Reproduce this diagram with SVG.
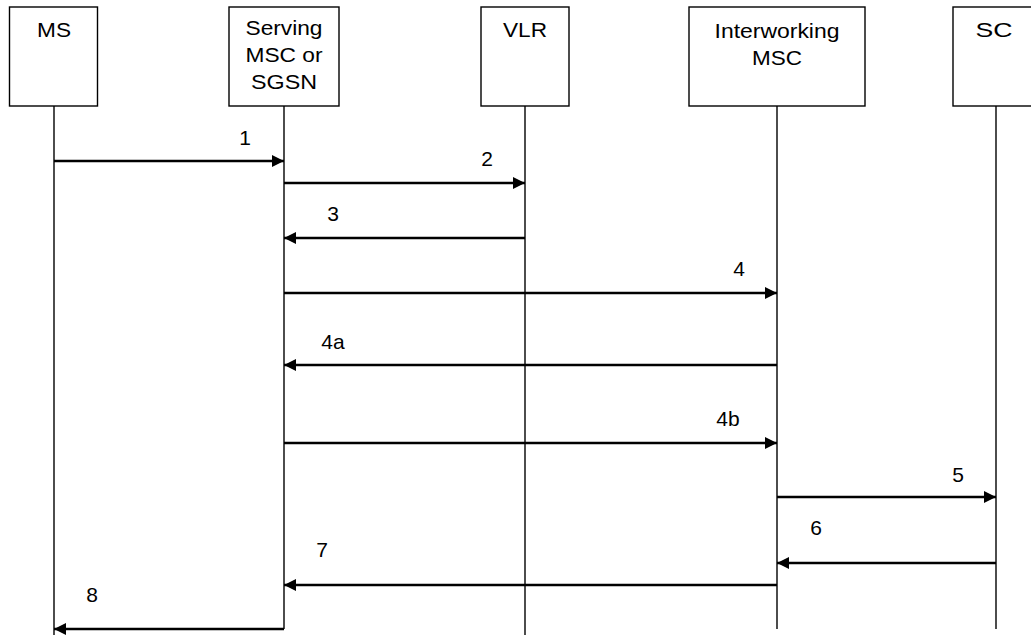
<svg xmlns="http://www.w3.org/2000/svg" width="1031" height="635" viewBox="0 0 1031 635">
<style>
.box{fill:#fff;stroke:#000;stroke-width:1.4}
.life{stroke:#000;stroke-width:1.4;fill:none}
.msg{stroke:#000;stroke-width:2.4;fill:none;marker-end:url(#ah)}
.t{font-family:"Liberation Sans",Arial,sans-serif;font-size:21px;fill:#000;text-anchor:middle}
.n{font-family:"Liberation Sans",Arial,sans-serif;font-size:21px;fill:#000;text-anchor:middle}
</style>
<defs>
<marker id="ah" markerUnits="userSpaceOnUse" markerWidth="13" markerHeight="13" refX="12" refY="6" orient="auto">
<path d="M0,0 L12,6 L0,12 Z" fill="#000"/>
</marker>
</defs>
<rect width="1031" height="635" fill="#fff"/>
<g id="lifelines">
<line class="life" x1="54" y1="106" x2="54" y2="635"/>
<line class="life" x1="284" y1="106" x2="284" y2="629"/>
<line class="life" x1="525" y1="106" x2="525" y2="635"/>
<line class="life" x1="777" y1="106" x2="777" y2="629"/>
<line class="life" x1="996" y1="106" x2="996" y2="629"/>
</g>
<g id="ms">
<rect class="box" x="9.5" y="7" width="88" height="99"/>
<text class="t" x="54" y="37" textLength="34" lengthAdjust="spacingAndGlyphs">MS</text>
</g>
<g id="serving">
<rect class="box" x="229" y="7" width="110" height="99"/>
<text class="t" x="284" y="35" textLength="77" lengthAdjust="spacingAndGlyphs">Serving</text>
<text class="t" x="284" y="62" textLength="77" lengthAdjust="spacingAndGlyphs">MSC or</text>
<text class="t" x="284" y="89" textLength="66" lengthAdjust="spacingAndGlyphs">SGSN</text>
</g>
<g id="vlr">
<rect class="box" x="481" y="7" width="88" height="99"/>
<text class="t" x="525" y="37" textLength="44" lengthAdjust="spacingAndGlyphs">VLR</text>
</g>
<g id="iwmsc">
<rect class="box" x="689" y="7" width="176" height="99"/>
<text class="t" x="777" y="38" textLength="125" lengthAdjust="spacingAndGlyphs">Interworking</text>
<text class="t" x="777" y="65" textLength="50" lengthAdjust="spacingAndGlyphs">MSC</text>
</g>
<g id="sc">
<rect class="box" x="953" y="7" width="90" height="99"/>
<text class="t" x="994" y="37" textLength="37" lengthAdjust="spacingAndGlyphs">SC</text>
</g>
<g id="connectors">
<line class="msg" x1="54" y1="161" x2="284" y2="161"/>
<line class="msg" x1="284" y1="183" x2="525" y2="183"/>
<line class="msg" x1="525" y1="238" x2="284" y2="238"/>
<line class="msg" x1="284" y1="293" x2="777" y2="293"/>
<line class="msg" x1="777" y1="365" x2="284" y2="365"/>
<line class="msg" x1="284" y1="443" x2="777" y2="443"/>
<line class="msg" x1="777" y1="497" x2="996" y2="497"/>
<line class="msg" x1="996" y1="563" x2="777" y2="563"/>
<line class="msg" x1="777" y1="585" x2="284" y2="585"/>
<line class="msg" x1="284" y1="629" x2="54" y2="629"/>
<text class="n" x="245" y="145">1</text>
<text class="n" x="487" y="166">2</text>
<text class="n" x="333" y="221">3</text>
<text class="n" x="739" y="276">4</text>
<text class="n" x="333" y="349">4a</text>
<text class="n" x="728" y="426">4b</text>
<text class="n" x="958" y="482">5</text>
<text class="n" x="816" y="535">6</text>
<text class="n" x="322" y="557">7</text>
<text class="n" x="92" y="602">8</text>
</g>
</svg>
